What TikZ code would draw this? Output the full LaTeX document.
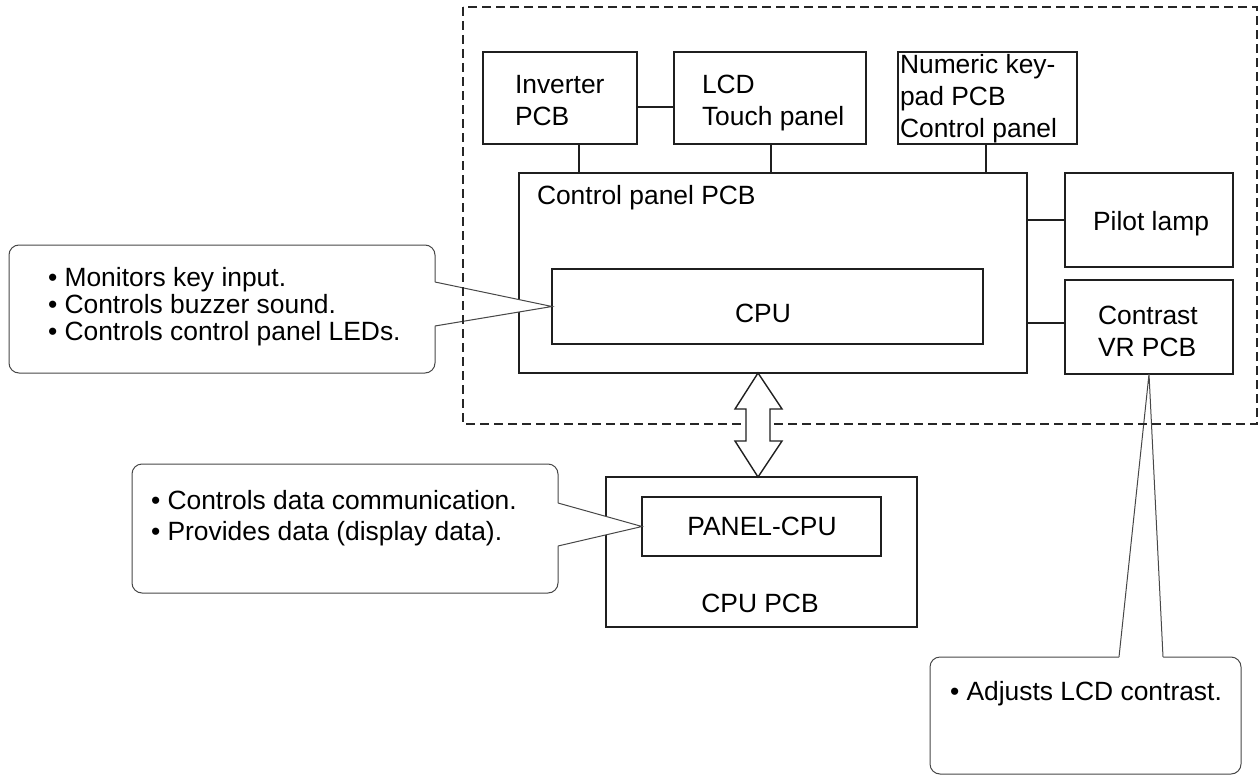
\documentclass[tikz,border=0pt]{standalone}
\usepackage{fontspec}
\setmainfont{Liberation Sans}
\usetikzlibrary{calc}
\newcommand\mlines[2][32pt]{\vtop{\baselineskip=#1\relax #2}}
\newcommand\Ln[1]{\hbox{#1}}
\tikzset{
  bx/.style={draw=black!88, line width=2pt, rectangle, inner sep=0pt, outer sep=0pt},
  txt/.style={inner sep=0pt, outer sep=0pt, font=\fontsize{26.4pt}{32pt}\selectfont, anchor=base west},
  ctxt/.style={txt, anchor=base},
  link/.style={draw=black!88, line width=1.4pt},
  co/.style={draw=black!72, line width=1pt, rounded corners=10pt, rectangle, inner sep=0pt, outer sep=0pt},
  coline/.style={draw=black!72, line width=1pt},
  frame/.style={draw=black!85, line width=2pt, dash pattern=on 9pt off 5pt},
  dblarrow/.style={draw=black!88, line width=1.4pt, fill=white, line join=miter}
}
\begin{document}
\begin{tikzpicture}[x=1pt,y=-1pt]
\useasboundingbox (0,0) rectangle (1260,776);

% boxes
\node[bx, minimum width=154pt, minimum height=92pt] (inv) at (560,98) {};
\node[bx, minimum width=192pt, minimum height=92pt] (lcd) at (770,98) {};
\node[bx, minimum width=179pt, minimum height=92pt] (num) at (987.5,98) {};
\node[bx, minimum width=508pt, minimum height=200pt] (cpanel) at (773,273) {};
\node[bx, minimum width=431pt, minimum height=75pt] (cpu) at (767.5,306.5) {};
\node[bx, minimum width=168pt, minimum height=94pt] (pilot) at (1149,220) {};
\node[bx, minimum width=168pt, minimum height=94pt] (contrast) at (1149,327) {};
\node[bx, minimum width=311pt, minimum height=150pt] (cpupcb) at (761.5,552) {};
\node[bx, line width=1.5pt, minimum width=239pt, minimum height=59pt] (pcpu) at (761.5,526.5) {};

% callouts
\node[co, minimum width=426pt, minimum height=128pt] (c1) at (222,309) {};
\node[co, minimum width=426pt, minimum height=129pt] (c2) at (345,528.5) {};
\node[co, minimum width=311pt, minimum height=117pt] (c3) at (1085.5,715.5) {};

\fill[white] ($(c1.east)+(-1.5,-27)$) -- ($(c1.east)+(0,-27)$) -- (cpu.west) -- ($(c1.east)+(0,17)$) -- ($(c1.east)+(-1.5,17)$) -- cycle;
\draw[coline] ($(c1.east)+(0,-27)$) -- (cpu.west) -- ($(c1.east)+(0,17)$);

\fill[white] ($(c2.east)+(-1.5,-25.5)$) -- ($(c2.east)+(0,-25.5)$) -- (pcpu.west) -- ($(c2.east)+(0,17.5)$) -- ($(c2.east)+(-1.5,17.5)$) -- cycle;
\draw[coline] ($(c2.east)+(0,-25.5)$) -- (pcpu.west) -- ($(c2.east)+(0,17.5)$);

\fill[white] ($(c3.north)+(33.5,1.5)$) -- ($(c3.north)+(33.5,0)$) -- (contrast.south) -- ($(c3.north)+(77.5,0)$) -- ($(c3.north)+(77.5,1.5)$) -- cycle;
\draw[coline] ($(c3.north)+(33.5,0)$) -- (contrast.south) -- ($(c3.north)+(77.5,0)$);

% dashed frame
\draw[frame] (463,7) rectangle (1257,424);

% connectors
\draw[link] ($(inv.east)+(0,9)$) -- ($(lcd.west)+(0,9)$);
\draw[link] ([xshift=19pt]inv.south) -- ([xshift=19pt]inv.south |- cpanel.north);
\draw[link] ([xshift=1pt]lcd.south) -- ([xshift=1pt]lcd.south |- cpanel.north);
\draw[link] ([xshift=-1.5pt]num.south) -- ([xshift=-1.5pt]num.south |- cpanel.north);
\draw[link] (pilot.west) -- (pilot.west -| cpanel.east);
\draw[link] ([yshift=4pt]contrast.west) -- ([yshift=4pt]contrast.west -| cpanel.east);

% double arrow
\coordinate (aT) at ($(cpanel.south)+(-15,0)$);
\coordinate (aB) at (aT |- cpupcb.north);
\draw[dblarrow] (aT) -- ($(aT)+(24,36)$) -- ($(aT)+(12,36)$) -- ($(aB)+(12,-36)$) -- ($(aB)+(24,-36)$) -- (aB)
  -- ($(aB)+(-23,-36)$) -- ($(aB)+(-12,-36)$) -- ($(aT)+(-12,36)$) -- ($(aT)+(-23,36)$) -- cycle;

% texts
\node[txt] (tinv) at (515,93) {\mlines{\Ln{Inverter}\Ln{PCB}}};
\node[txt] (tlcd) at (702,93) {\mlines{\Ln{LCD}\Ln{Touch panel}}};
\node[txt] (tnum) at (900,74) {\mlines{\Ln{Numeric key-}\Ln{pad PCB}\Ln{Control panel}}};
\node[txt] (tcp) at (537,204) {Control panel PCB};
\node[ctxt] (tcpu) at (763,322) {CPU};
\node[ctxt] (tpil) at (1151,230) {Pilot lamp};
\node[txt] (tcon) at (1098,324) {\mlines{\Ln{Contrast}\Ln{VR PCB}}};
\node[ctxt] (tpc) at (762,535) {PANEL-CPU};
\node[ctxt] (tcpb) at (760,612) {CPU PCB};
\node[txt] (tc1) at (48,286) {\mlines[27pt]{\Ln{• Monitors key input.}\Ln{• Controls buzzer sound.}\Ln{• Controls control panel LEDs.}}};
\node[txt] (tc2) at (151,509) {\mlines[31pt]{\Ln{• Controls data communication.}\Ln{• Provides data (display data).}}};
\node[txt] (tc3) at (950,700) {• Adjusts LCD contrast.};
\end{tikzpicture}
\end{document}
